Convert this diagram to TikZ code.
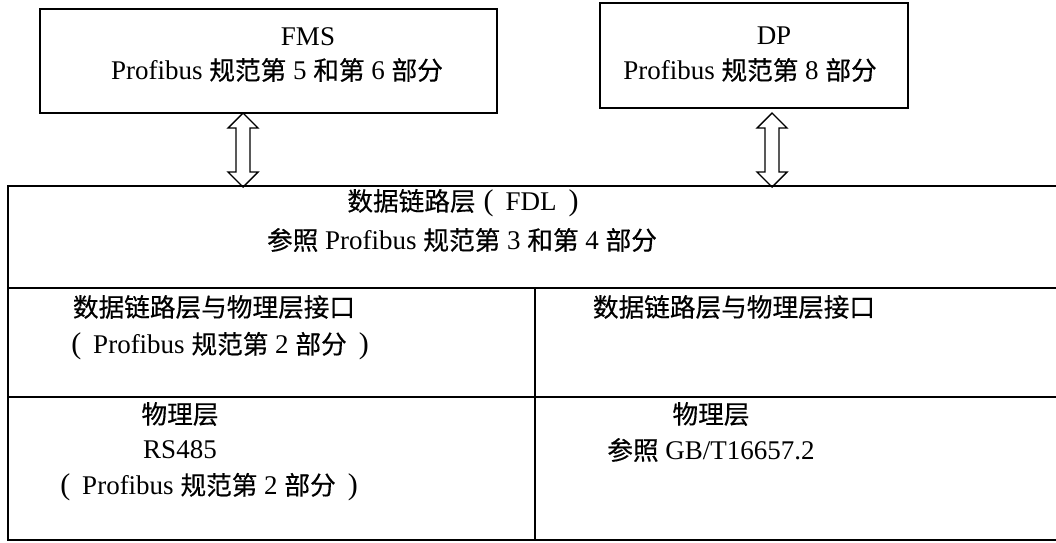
\documentclass[tikz,border=0pt]{standalone}
\usepackage{fontspec}
\setmainfont{Liberation Serif}
\newfontfamily\cjk{Noto Sans CJK SC}[Scale=0.95,FakeBold=0.4]
\newcommand\zh[1]{{\cjk #1}}
\newcommand\lp{\hspace{8pt}{\fontsize{30}{32}\selectfont(}\hspace{12pt}}
\newcommand\rp{\hspace{12pt}{\fontsize{30}{32}\selectfont)}\hspace{8pt}}
\usetikzlibrary{calc}
\begin{document}
\begin{tikzpicture}[x=1pt,y=-1pt,
  box/.style={draw,line width=1.8pt},
  grid/.style={line width=1.8pt},
  arr/.style={draw,line width=1.4pt,line join=miter},
  txt/.style={inner sep=0pt,anchor=center,font=\fontsize{27}{32}\selectfont}]
\useasboundingbox (0,0) rectangle (1056,542);
% top boxes
\draw[box] (40,9) rectangle (497,113);
\draw[box] (600,3) rectangle (908,108);
\node[txt] (fms) at (308,37) {FMS};
\node[txt] (fms2) at (277,70) {Profibus \zh{规范第} 5 \zh{和第} 6 \zh{部分}};
\node[txt] (dp) at (774,36) {DP};
\node[txt] (dp2) at (750,70) {Profibus \zh{规范第} 8 \zh{部分}};
% main table
\draw[grid] (1056,186) -- (8,186) -- (8,540) -- (1056,540);
\draw[grid] (8,288) -- (1056,288);
\draw[grid] (8,397) -- (1056,397);
\draw[grid] (535,288) -- (535,540);
\node[txt] (fdl) at (463,203) {\zh{数据链路层}\lp FDL\rp};
\node[txt] (fdl2) at (462,240) {\zh{参照} Profibus \zh{规范第} 3 \zh{和第} 4 \zh{部分}};
\node[txt] (ifl) at (214,307) {\zh{数据链路层与物理层接口}};
\node[txt] (ifl2) at (216,346) {\lp Profibus \zh{规范第} 2 \zh{部分}\rp};
\node[txt] (ifr) at (734,307) {\zh{数据链路层与物理层接口}};
\node[txt] (phl) at (180,414) {\zh{物理层}};
\node[txt] (phl2) at (180,450) {RS485};
\node[txt] (phl3) at (205,487) {\lp Profibus \zh{规范第} 2 \zh{部分}\rp};
\node[txt] (phr) at (711,414) {\zh{物理层}};
\node[txt] (phr2) at (711,450) {\zh{参照} GB/T16657.2};
% double arrows
\coordinate (at) at (243,113); \coordinate (ab) at (243,187);
\coordinate (bt) at (772,113); \coordinate (bb) at (772,187);
\draw[arr] (at) -- ++(15,15) -- ++(-8,0) -- ($(ab)+(7,-15)$) -- ++(8,0) -- (ab)
  -- ++(-15,-15) -- ++(8,0) -- ($(at)+(-7,15)$) -- ++(-8,0) -- cycle;
\draw[arr] (bt) -- ++(15,15) -- ++(-8,0) -- ($(bb)+(7,-15)$) -- ++(8,0) -- (bb)
  -- ++(-15,-15) -- ++(8,0) -- ($(bt)+(-7,15)$) -- ++(-8,0) -- cycle;
\end{tikzpicture}
\end{document}
